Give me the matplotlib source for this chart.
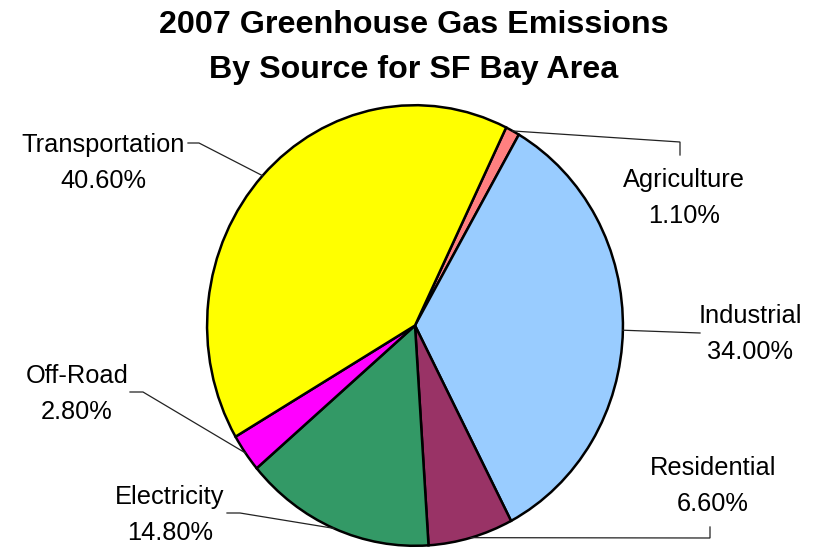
import numpy as np
import matplotlib
matplotlib.use("Agg")
import matplotlib.pyplot as plt

plt.rcParams['font.family'] = ['Liberation Sans', 'DejaVu Sans']

# data, clockwise from the top
sources = ["Agriculture", "Industrial", "Residential", "Electricity", "Off-Road", "Transportation"]
shares = [1.1, 34.0, 6.6, 14.8, 2.8, 40.6]
colors = ["#FF8080", "#99CCFF", "#993366", "#339966", "#FF00FF", "#FFFF00"]

# label centers (pixels) and leader elbows: text end -> elbow -> wedge
label_pos = {
    "Agriculture": (684, 180),
    "Industrial": (750, 316),
    "Residential": (713, 468),
    "Electricity": (170, 497),
    "Off-Road": (77, 376),
    "Transportation": (103, 145),
}
leader = {
    "Agriculture": [(680, 155), (680, 142)],
    "Industrial": [(700, 333), (700, 333)],
    "Residential": [(710, 527), (710, 538)],
    "Electricity": [(227, 513), (240, 513)],
    "Off-Road": [(130, 392), (143, 392)],
    "Transportation": [(188, 143), (199, 143)],
}

W, H = 817, 549
fig = plt.figure(figsize=(W / 100, H / 100), dpi=100)

# pie axes spans the pie's bounding box (slightly taller than wide, like the original)
pie_ax = fig.add_axes([205 / W, 1 / H, 420 / W, 445 / H])
wedges, _ = pie_ax.pie(shares, colors=colors, startangle=64, counterclock=False,
                       wedgeprops=dict(edgecolor="black", linewidth=1.8),
                       normalize=True)
pie_ax.set_aspect("auto")
pie_ax.set_xlim(-1.01, 1.01)
pie_ax.set_ylim(-1.01, 1.01)
pie_ax.axis("off")

# overlay axes in pixel coordinates for title, labels and leader lines
ov = fig.add_axes([0, 0, 1, 1], zorder=3)
ov.set_xlim(0, W)
ov.set_ylim(H, 0)
ov.axis("off")
ov.patch.set_alpha(0)

ov.text(414, 25, "2007 Greenhouse Gas Emissions", ha="center", va="center",
        fontsize=23.2, fontweight="bold")
ov.text(414, 70, "By Source for SF Bay Area", ha="center", va="center",
        fontsize=23.2, fontweight="bold")

for w, name, val in zip(wedges, sources, shares):
    mid = np.deg2rad((w.theta1 + w.theta2) / 2)
    disp = pie_ax.transData.transform((np.cos(mid), np.sin(mid)))
    ax_pt = ov.transData.inverted().transform(disp)
    (x0, y0), (x1, y1) = leader[name]
    ov.plot([x0, x1, ax_pt[0]], [y0, y1, ax_pt[1]], color="#222222", lw=0.9,
            solid_joinstyle="miter")
    lx, ly = label_pos[name]
    ov.text(lx, ly, name, ha="center", va="center", fontsize=18.3)
    ov.text(lx, ly + 36, "{:.2f}%".format(val), ha="center", va="center", fontsize=18.3)

fig.savefig("out.png", dpi=100)
